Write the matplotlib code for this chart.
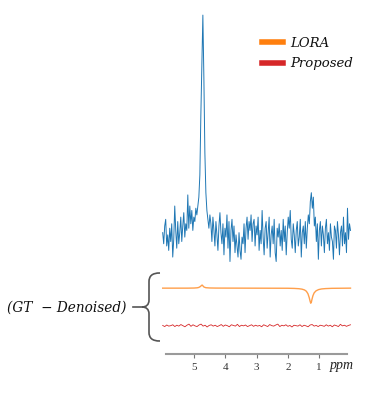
import numpy as np
import matplotlib
matplotlib.use("Agg")
import matplotlib.pyplot as plt
from matplotlib.path import Path
from matplotlib.patches import PathPatch
from matplotlib.lines import Line2D

# ---------------- data ----------------
# noisy spectrum (arbitrary intensity units, main peak = 100), ppm 6.0 -> 0.0
spectrum = [
    2, -3, 5, 8, -4, 1, -6, 4,
    -2, 6, -9, -1, 14, 3, -5, 7, -3, 2,
    9, -2, 5, 11, 0, 6, 3, 19, 4, 14,
    6, 12, 3, 9, 7, 13,
    10, 14, 18, 28, 55, 78, 100, 72, 38, 20, 12,
    8, 4, 10, 6, -2, 9, 3, -4, 7, 1, -6, 5, 11,
    2, -3, 6, -8, 4, 0, 10, -5, 7, -11, 3, 8, -2, 5, -7,
    1, -4, -9, 2, -6, -10, 0, -3, 6, -7, 4, 9, -1, 7, 3,
    10, -2, 6, 8, -4, 5, 1, 9, -6, 3, -3, 12, 0, -8, 4,
    7, -5, 2, 9, -9, 1, 5, -3, 8, -7, -11, 4, 0, 6, -4,
    3, -6, 8, -2, 5, -8, 2, 9, 4, 12, -1, -5, 6, 1, -7,
    3, 7, -4, 0, 8, -9, 2, 5, -3, 7, -5, 4, 10, 6, 16,
    20, 13, 18, 5, 9, -2, 6, -10, 3, 7, -4, 5, 1, -7, 4,
    8, -3, 2, -6, 6, 0, -2, -10, 5, 3, -5, 7, 1, -8, 2,
    5, -4, 9, -3, 2, -7, 13, -1, 6, 3,
]
spectrum_ppm_range = (6.0, 0.0)

# residual of LORA (GT - denoised)
lora_ppm = [6.0, 5.2, 5.0, 4.9, 4.85, 4.8, 4.76, 4.74, 4.72, 4.68, 4.62, 4.5, 4.3,
            2.0, 1.8, 1.65, 1.55, 1.47, 1.41, 1.36, 1.32, 1.29, 1.27, 1.25, 1.23,
            1.2, 1.16, 1.1, 1.02, 0.92, 0.8, 0.6, 0.0]
lora_resid = [0, 0, 0.05, 0.15, 0.3, 0.7, 1.2, 1.4, 1.1, 0.5, 0.2, 0.08, 0.03,
              -0.05, -0.12, -0.25, -0.45, -0.8, -1.4, -2.5, -4.2, -5.9, -6.8, -6.3, -5.0,
              -3.4, -2.1, -1.2, -0.65, -0.35, -0.2, -0.08, 0]

# residual of proposed method (GT - denoised)
proposed_resid = [
    0.2, -0.3, 0.4, -0.1, 0.1, 0.5, -0.3, 0.3, -0.1, 0.6, 0.1, -0.4, 0.3, 0.8, -0.2,
    0.5, 0.0, -0.3, 0.4, 0.8, -0.1, 0.3, -0.5, 0.2, 0.5, -0.1, 0.3, -0.3, 0.1, 0.6,
    -0.2, 0.4, 0.1, -0.4, 0.5, 0.2, -0.1, 0.7, -0.3, 0.3,
    0.0, 0.4, -0.3, 0.1, 0.5, -0.2, 0.3, -0.1, 0.2, -0.4,
    0.5, 0.1, -0.3, 0.6, 0.1, -0.1, 0.4, 0.8, -0.3, 0.3,
    0.0, 0.5, -0.2, 0.2, -0.5, 0.3, 0.1, -0.1, 0.5, -0.3,
    0.3, 0.0, -0.4, 0.4, 0.6, -0.1, 0.2, -0.3, 0.3, 0.1,
    -0.2, 0.5, -0.1, 0.3, -0.4, 0.4, 0.1, -0.3, 0.7, 0.0,
    0.3, -0.2, 0.2, 0.5,
]

x_ticks = [5, 4, 3, 2, 1]
x_tick_labels = ["5", "4", "3", "2", "1"]
legend_labels = ["LORA", "Proposed"]

# ---------------- figure ----------------
W, H = 376, 400
fig = plt.figure(figsize=(W / 100, H / 100), dpi=100)

def fx(px):
    return px / W

def fy(py):
    return 1 - py / H

ax_left, ax_right, ax_top, ax_bot = 160, 352, 10, 354.3
ax = fig.add_axes([fx(ax_left), fy(ax_bot), (ax_right - ax_left) / W, (ax_bot - ax_top) / H])

lora_offset = -23
proposed_offset = -40

spec_x = np.linspace(spectrum_ppm_range[0], spectrum_ppm_range[1], len(spectrum))
ax.plot(spec_x, spectrum, color="#1f77b4", lw=0.7)

ax.plot(lora_ppm, np.array(lora_resid) + lora_offset, color="#ff7f0e", lw=1.0, alpha=0.75)

prop_x = np.linspace(spectrum_ppm_range[0], spectrum_ppm_range[1], len(proposed_resid))
ax.plot(prop_x, np.array(proposed_resid) + proposed_offset, color="#d62728", lw=0.6)

ax.set_xlim(6.086, -0.048)
ax.set_ylim(-52.8, 102.3)

for s in ["top", "right", "left"]:
    ax.spines[s].set_visible(False)
ax.spines["bottom"].set_color("#9a9a9a")
ax.spines["bottom"].set_linewidth(1.5)
ax.spines["bottom"].set_bounds(5.9, 0.12)
ax.set_yticks([])
ax.set_xticks(x_ticks)
ax.set_xticklabels(x_tick_labels, family="Liberation Serif", fontsize=8, color="#333333")
ax.tick_params(axis="x", length=3, width=0.8, color="#777777", pad=3)
ax.patch.set_alpha(0)

# ppm label
fig.text(fx(330), fy(365), "ppm", family="Liberation Serif", style="italic",
         fontsize=10, color="#222222", ha="left", va="center")

# legend
handles = [Line2D([], [], color="#ff7f0e", lw=4),
           Line2D([], [], color="#d62728", lw=4)]
leg = ax.legend(handles, legend_labels, loc="upper left",
                bbox_to_anchor=(fx(262), fy(37)), bbox_transform=fig.transFigure,
                frameon=False, borderpad=0, borderaxespad=0,
                handlelength=1.6, handletextpad=0.55, labelspacing=0.55,
                prop={"family": "DejaVu Serif", "style": "italic", "size": 9.5})
for t in leg.get_texts():
    t.set_color("#111111")

# side label
fig.text(fx(67), fy(308), "(GT  \u2212 Denoised)", family="DejaVu Serif", style="italic",
         fontsize=9.8, color="#111111", ha="center", va="center")

# curly brace
pts = [(160, 273), (152, 273), (149, 276), (149, 282),
       (149, 300),
       (149, 305), (146, 307), (142, 307),
       (146, 307), (149, 309), (149, 314),
       (149, 332),
       (149, 338), (152, 341), (160, 341)]
codes = [Path.MOVETO, Path.CURVE4, Path.CURVE4, Path.CURVE4,
         Path.LINETO,
         Path.CURVE4, Path.CURVE4, Path.CURVE4,
         Path.CURVE4, Path.CURVE4, Path.CURVE4,
         Path.LINETO,
         Path.CURVE4, Path.CURVE4, Path.CURVE4]
brace = Path([(fx(x), fy(y)) for x, y in pts], codes)
fig.patches.append(PathPatch(brace, transform=fig.transFigure, fill=False,
                             edgecolor="#555555", lw=1.2))
fig.lines.append(Line2D([fx(133), fx(143)], [fy(307), fy(307)],
                        transform=fig.transFigure, color="#555555", lw=1.2))

fig.savefig("out.png", dpi=100)
